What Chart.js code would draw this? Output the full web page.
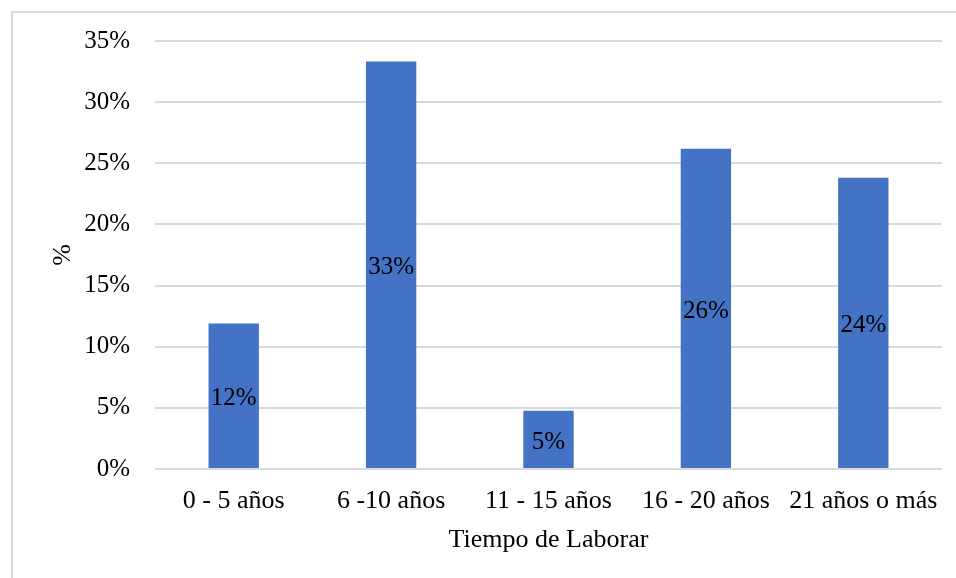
<!DOCTYPE html>
<html>
<head>
<meta charset="utf-8">
<script src="https://cdn.jsdelivr.net/npm/chart.js@4.4.1/dist/chart.umd.min.js"></script>
<style>
  html, body { margin: 0; padding: 0; background: #fff; }
  #wrap { position: relative; width: 956px; height: 578px; overflow: hidden; }
  #frame { position: absolute; left: 11px; top: 11px; width: 1000px; height: 1000px;
           border-left: 2px solid #d9d9d9; border-top: 2px solid #d9d9d9; box-sizing: border-box; }
  canvas { position: absolute; left: 0; top: 0; }
</style>
</head>
<body>
<div id="wrap">
  <div id="frame"></div>
  <canvas id="c" width="956" height="578"></canvas>
</div>
<script>
// Distribución por tiempo de laborar
const categories = ['0 - 5 años', '6 -10 años', '11 - 15 años', '16 - 20 años', '21 años o más'];
const percentages = [11.9, 33.33, 4.76, 26.19, 23.81];
const yTicks = [0, 5, 10, 15, 20, 25, 30, 35];

const FONT = '"Liberation Serif", "Times New Roman", serif';

// Draws each bar's rounded value at its vertical centre
const centerLabels = {
  id: 'centerLabels',
  afterDatasetsDraw(chart) {
    const ctx = chart.ctx;
    const meta = chart.getDatasetMeta(0);
    ctx.save();
    ctx.font = '25px ' + FONT;
    ctx.fillStyle = '#000';
    ctx.textAlign = 'center';
    ctx.textBaseline = 'middle';
    meta.data.forEach((bar, i) => {
      const v = chart.data.datasets[0].data[i];
      const yMid = (bar.y + bar.base) / 2 + 3;
      ctx.fillText(Math.round(v) + '%', bar.x, yMid);
    });
    ctx.restore();
  }
};

new Chart(document.getElementById('c'), {
  type: 'bar',
  data: {
    labels: categories,
    datasets: [{
      data: percentages,
      backgroundColor: '#4472C4',
      borderWidth: 0,
      categoryPercentage: 1.0,
      barPercentage: 0.32
    }]
  },
  options: {
    responsive: false,
    animation: false,
    devicePixelRatio: 1,
    layout: { padding: { top: 41, right: 14, bottom: 0, left: 0 } },
    plugins: { legend: { display: false }, tooltip: { enabled: false } },
    scales: {
      x: {
        grid: { display: false },
        border: { display: false },
        ticks: { color: '#000', font: { family: FONT, size: 26 }, padding: 9, maxRotation: 0 },
        title: { display: true, text: 'Tiempo de Laborar', color: '#000',
                 font: { family: FONT, size: 26 }, padding: { top: 4, bottom: 22 } },
        afterFit(scale) { scale.height = 109; }
      },
      y: {
        min: 0, max: 35,
        afterBuildTicks(scale) { scale.ticks = yTicks.map(v => ({ value: v })); },
        grid: { color: '#d9d9d9', lineWidth: 2, drawTicks: false },
        border: { display: false },
        ticks: { color: '#000', font: { family: FONT, size: 25 }, padding: 25,
                 callback: v => v + '%' },
        title: { display: true, text: '%', color: '#000',
                 font: { family: FONT, size: 26 }, padding: { top: 48, bottom: 0 } },
        afterFit(scale) { scale.width = 155; }
      }
    }
  },
  plugins: [centerLabels]
});
</script>
</body>
</html>
